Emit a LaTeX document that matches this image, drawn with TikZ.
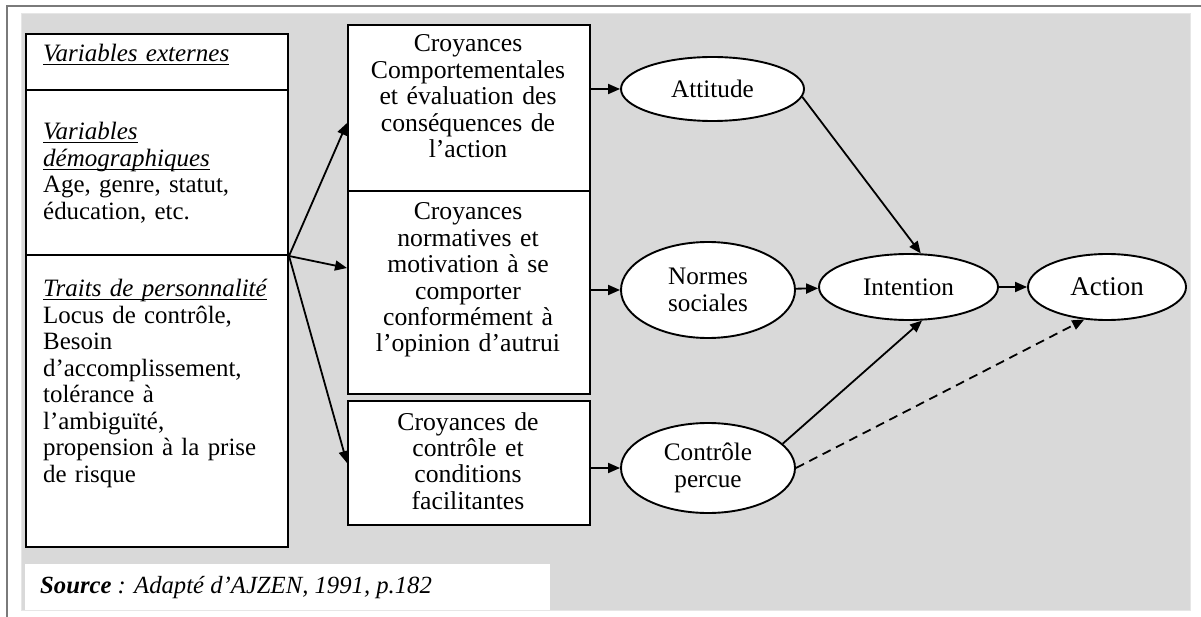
\documentclass[tikz,border=0pt]{standalone}
\usepackage{fontspec}
\setmainfont{Liberation Serif}
\usetikzlibrary{arrows.meta,calc,shapes.geometric}

\definecolor{panelgray}{HTML}{D9D9D9}
\definecolor{framegray}{HTML}{7A7A7A}
\definecolor{edgegray}{HTML}{E6E6E6}

% underline at a fixed depth below the baseline
\newcommand\ulword[1]{\leavevmode\setbox0\hbox{#1}\rlap{\rule[-3.4pt]{\wd0}{1.2pt}}\box0}
% italic underlined heading
\newcommand\hd[1]{{\fontsize{25}{26.4}\selectfont\itshape\ulword{#1}}}
% a line stretched to the column width
\newcommand\fillline[1]{\leavevmode\makebox[205pt][s]{#1}}

\begin{document}
\begin{tikzpicture}[x=1pt,y=-1pt,
  txt/.style={inner sep=0pt, font=\fontsize{25.7}{26.4}\selectfont},
  coltxt/.style={inner sep=0pt, font=\fontsize{24.9}{26.5}\selectfont, anchor=base west, text width=230pt, align=left},
  lbox/.style={draw=black, fill=white, line width=2pt, minimum width=262pt, inner sep=0pt, anchor=north west},
  mbox/.style={draw=black, fill=white, line width=2pt, minimum width=242pt, inner sep=0pt, anchor=north west},
  ell/.style={draw=black, fill=white, ellipse, line width=1.9pt, inner sep=0pt, align=center,
              font=\fontsize{25.2}{27}\selectfont},
  arr/.style={line width=1.8pt, -{Triangle[length=12pt,width=10pt]}},
]
\useasboundingbox (0,0) rectangle (1201,617);

% page frame and grey panel
\fill[panelgray] (21,14) rectangle (1190,610);
\draw[edgegray, line width=1pt] (21,14) rectangle (1190,610);
\draw[framegray, line width=2pt] (7,617) -- (7,6) -- (1201,6);

% external variables column
\node[lbox, minimum height=56pt] (ext) at (25,33) {};
\node[lbox, minimum height=165pt] (demo) at (25,89) {};
\node[lbox, minimum height=292pt] (pers) at (25,254) {};

\node[coltxt] (extT) at (43,62) {\hd{Variables externes}};
\node[coltxt] (demoT) at (43,140)
  {\hd{Variables}\\\hd{démographiques}\\\fillline{Age, genre, statut,}\\éducation, etc.};
\node[coltxt] (persT) at (43,297)
  {\hd{Traits de personnalité}\\\fillline{Locus de contrôle,}\\Besoin\\d’accomplissement,\\tolérance à\\l’ambiguïté,\\\fillline{propension à la prise}\\de risque};

% belief boxes
\node[mbox, minimum height=166pt] (b1) at (347,24) {};
\node[mbox, minimum height=203pt] (b2) at (347,190) {};
\node[mbox, minimum height=124pt] (b3) at (347,400) {};

\node[txt, anchor=base, text width=236pt, align=center] (b1T) at (468,52)
  {Croyances\\Comportementales\\et évaluation des\\conséquences de\\l’action};
\node[txt, anchor=base, text width=236pt, align=center] (b2T) at (468,220)
  {Croyances\\normatives et\\motivation à se\\comporter\\conformément à\\l’opinion d’autrui};
\node[txt, anchor=base, text width=236pt, align=center] (b3T) at (468,430)
  {Croyances de\\contrôle et\\conditions\\facilitantes};

% constructs
\node[ell, minimum width=183pt, minimum height=64pt] (att) at (712.5,89) {Attitude};
\node[ell, minimum width=174pt, minimum height=96pt] (nor) at (708,290) {Normes\\sociales};
\node[ell, minimum width=174pt, minimum height=90pt] (ctl) at (708,468) {Contrôle\\percue};
\node[ell, minimum width=179pt, minimum height=66pt] (int) at (908.5,287) {Intention};
\node[ell, minimum width=158pt, minimum height=66pt, font=\fontsize{27}{28}\selectfont] (act) at (1107,287) {Action};

% source note
\node[fill=white, minimum width=525pt, minimum height=46pt, inner sep=0pt, anchor=north west] (src) at (25,564) {};
\node[txt, anchor=base west, font=\fontsize{24.7}{26}\selectfont] (srcT) at (40,593) {\itshape\textbf{Source} : Adapté d’AJZEN, 1991, p.182};

% connectors
\draw[arr] (demo.south east) -- ([yshift=-15pt]b1.west);
\draw[arr] (demo.south east) -- ([yshift=24.5pt]b2.west);
\draw[arr] (demo.south east) -- (b3.west);

\draw[arr] (b1.east |- att.west) -- (att.west);
\draw[arr] (b2.east |- nor.west) -- (nor.west);
\draw[arr] (b3.east |- ctl.west) -- (ctl.west);

\draw[arr] (att.-5) -- (int.70);
\draw[arr] (nor) -- (int);
\draw[arr] (ctl.18) -- (int.-68);
\draw[arr] (int) -- (act);
\draw[arr, dash pattern=on 9pt off 6pt] (ctl.east) -- (act.-125);
\end{tikzpicture}
\end{document}
